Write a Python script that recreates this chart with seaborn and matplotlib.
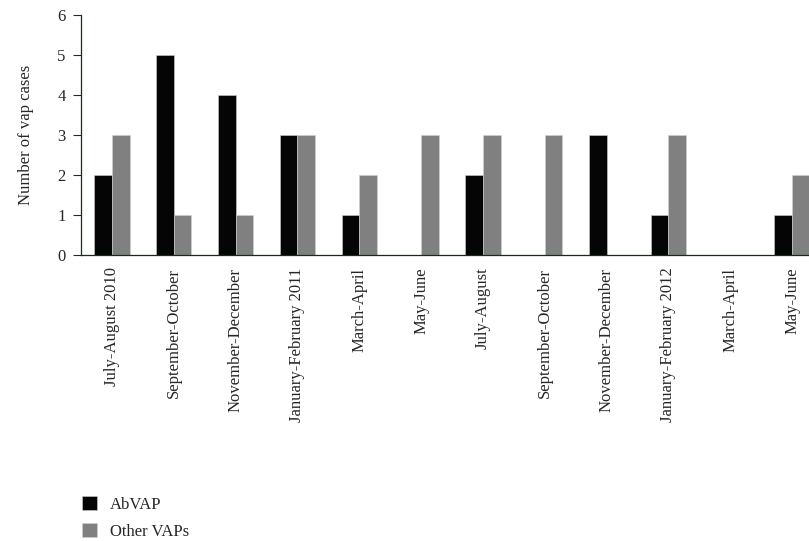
import pandas as pd
import seaborn as sns
import matplotlib.pyplot as plt

# データ
periods = ['July-August 2010', 'September-October', 'November-December',
           'January-February 2011', 'March-April', 'May-June',
           'July-August', 'September-October', 'November-December',
           'January-February 2012', 'March-April', 'May-June']
abvap = [2, 5, 4, 3, 1, 0, 2, 0, 3, 1, 0, 1]
other_vaps = [3, 1, 1, 3, 2, 3, 3, 3, 0, 3, 0, 2]
series_names = ['AbVAP', 'Other VAPs']

# 同じラベルが2回出るので位置の番号で区別する
idx = list(range(len(periods)))
df = pd.DataFrame({
    'pos': idx * 2,
    'count': abvap + other_vaps,
    'type': [series_names[0]] * len(idx) + [series_names[1]] * len(idx),
})

sns.set_style('white')
plt.rcParams['font.family'] = ['Liberation Serif', 'DejaVu Serif']

fig = plt.figure(figsize=(8.09, 5.41), dpi=100)
ax = fig.add_axes([81 / 809, 1 - 255 / 541, 742 / 809, 240 / 541])

sns.barplot(data=df, x='pos', y='count', hue='type', hue_order=series_names,
            palette=['#050505', '#808080'], width=0.57, edgecolor='#d0d0d0',
            linewidth=0.4, ax=ax)

ax.set_ylim(0, 6)
ax.set_yticks(range(0, 7))
ax.set_xlim(-0.5, 11.5)
ax.set_xticks(idx)
ax.set_xticklabels(periods, rotation=90, fontsize=12)
ax.tick_params(axis='y', labelsize=12, length=6, width=0.8, direction='out',
               left=True, pad=5)
ax.tick_params(axis='x', length=0, pad=9)
ax.set_xlabel('')
ax.set_ylabel('Number of vap cases', fontsize=12, labelpad=17)

for s in ['top', 'right']:
    ax.spines[s].set_visible(False)
for s in ['left', 'bottom']:
    ax.spines[s].set_color('#1a2a1a')
    ax.spines[s].set_linewidth(0.9)

ax.legend(loc='upper left', bbox_to_anchor=(82 / 809, 1 - 496 / 541),
          bbox_transform=fig.transFigure, frameon=False, fontsize=12,
          handlelength=0.9, handleheight=0.9, handletextpad=0.75,
          labelspacing=0.62, borderpad=0, borderaxespad=0)

fig.savefig('out.png', dpi=100)
